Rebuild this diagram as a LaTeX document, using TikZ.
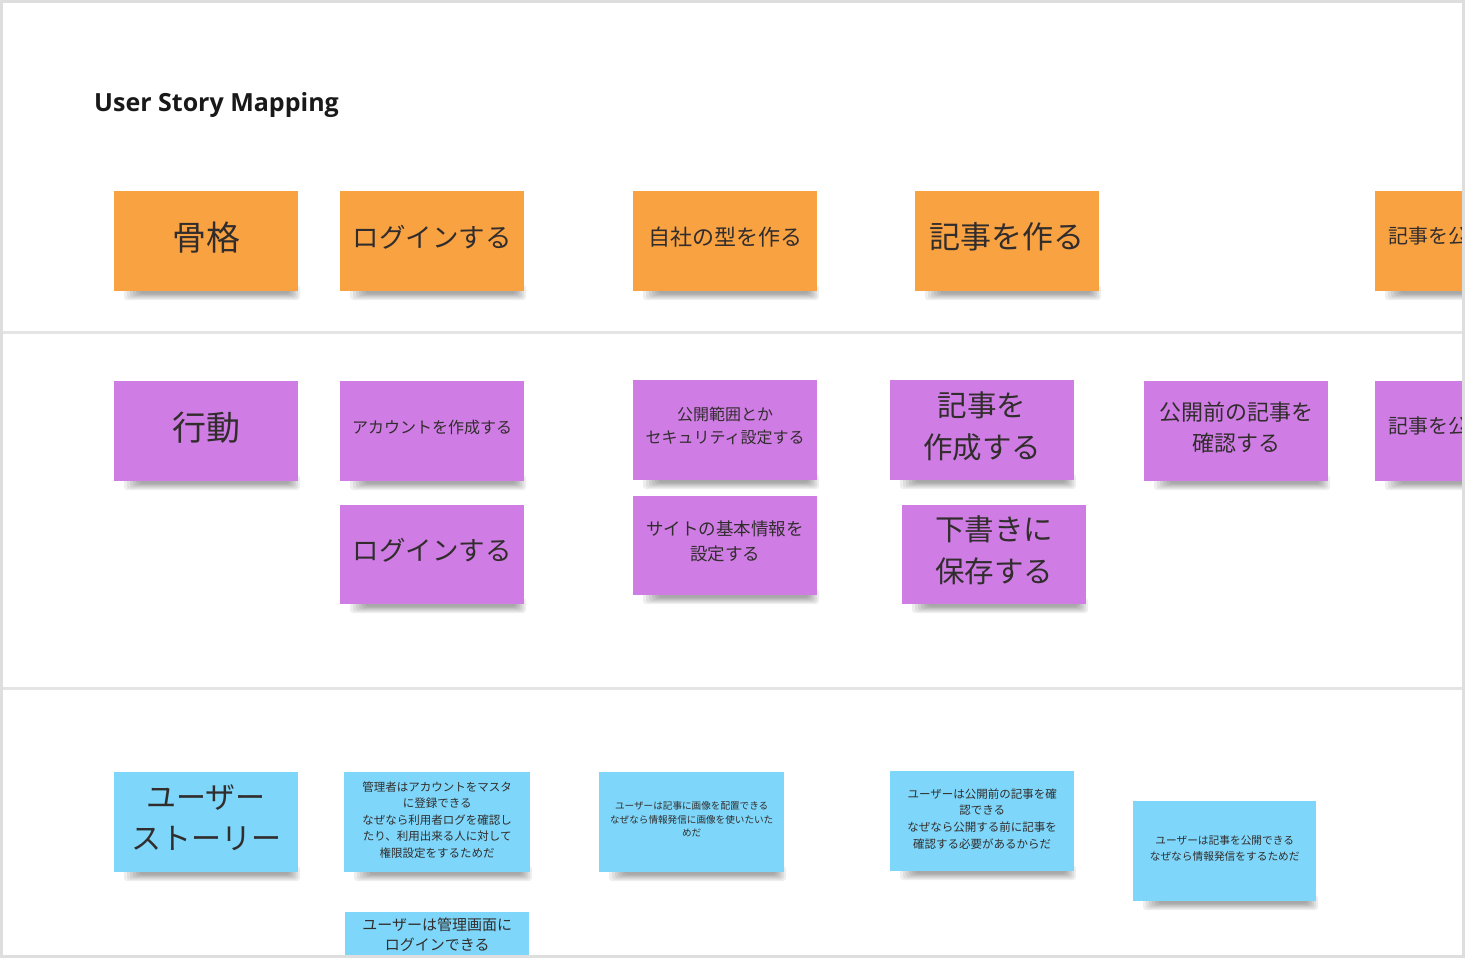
\documentclass[tikz,border=0pt]{standalone}
\usepackage{fontspec}
\newfontfamily\jp{Noto Sans CJK JP}
\newfontfamily\titlefont{Open Sans}
\definecolor{noteorange}{RGB}{248,162,66}
\definecolor{notepurple}{RGB}{207,125,229}
\definecolor{noteblue}{RGB}{126,215,250}
\definecolor{notetext}{RGB}{50,45,45}
\definecolor{framegray}{RGB}{222,222,222}
\definecolor{linegray}{RGB}{228,228,228}
\tikzset{
  note/.style={draw=none, inner sep=0pt, align=center, text=notetext},
  sepline/.style={linegray, line width=3pt},
}
\newcommand\noteshift{4pt}
\newcommand\stickynote[9]{%
  \foreach \k in {0,...,5} {%
    \fill[black,opacity=0.065,rounded corners=3pt] ({#2+10+3*\k},{#3+#5-6}) rectangle ({#2+#4+2-2*\k},{#3+#5+9-1.3*\k});
  }%
  \node[note, fill=#6, minimum width=#4pt, minimum height=#5pt, anchor=north west] (#1) at (#2,#3) {};
  \node[note, font=\jp\fontsize{#7}{#8}\selectfont, yshift=\noteshift] (#1t) at (#1.center) {#9};
}
\begin{document}
\begin{tikzpicture}[x=1pt,y=-1pt]
\useasboundingbox (0,0) rectangle (1467,960);
\fill[white] (0,0) rectangle (1467,960);
\begin{scope}
\clip (3,3) rectangle (1462,955);
% separators
\coordinate (s1a) at (3,332); \coordinate (s1b) at (1462,332);
\coordinate (s2a) at (3,688); \coordinate (s2b) at (1462,688);
\draw[sepline] (s1a) -- (s1b);
\draw[sepline] (s2a) -- (s2b);
% title
\node[anchor=base west, inner sep=0pt, font=\titlefont\bfseries\fontsize{25}{30}\selectfont, text=black!90] (title) at (94,112) {User Story Mapping};
% row 1
\stickynote{kokkaku}{114}{191}{184}{100}{noteorange}{34}{40}{骨格}
\stickynote{login1}{340}{191}{184}{100}{noteorange}{26.5}{32}{ログインする}
\stickynote{jisha}{633}{191}{184}{100}{noteorange}{22}{28}{自社の型を作る}
\stickynote{kiji}{915}{191}{184}{100}{noteorange}{31}{38}{記事を作る}
\foreach \k in {0,...,5} {\fill[black,opacity=0.065,rounded corners=3pt] ({1385+3*\k},285) rectangle ({1561-2*\k},{300-1.3*\k});}
\node[note, fill=noteorange, minimum width=184pt, minimum height=100pt, anchor=north west] (kokai1) at (1375,191) {};
\node[anchor=west, inner sep=0pt, text=notetext, font=\jp\fontsize{20}{26}\selectfont] (kokai1t) at (1388,236) {記事を公開する};
% row 2
\stickynote{kodo}{114}{381}{184}{100}{notepurple}{34}{40}{行動}
\stickynote{account}{340}{381}{184}{100}{notepurple}{16}{22}{アカウントを作成する}
\stickynote{hanni}{633}{380}{184}{100}{notepurple}{16}{23}{公開範囲とか\\セキュリティ設定する}
\stickynote{sakusei}{890}{380}{184}{100}{notepurple}{29.5}{42}{記事を\\作成する}
\stickynote{kakunin}{1144}{381}{184}{100}{notepurple}{22}{31}{公開前の記事を\\確認する}
\foreach \k in {0,...,5} {\fill[black,opacity=0.065,rounded corners=3pt] ({1385+3*\k},475) rectangle ({1561-2*\k},{490-1.3*\k});}
\node[note, fill=notepurple, minimum width=184pt, minimum height=100pt, anchor=north west] (kokai2) at (1375,381) {};
\node[anchor=west, inner sep=0pt, text=notetext, font=\jp\fontsize{20}{26}\selectfont] (kokai2t) at (1388,426) {記事を公開する};
\stickynote{login2}{340}{505}{184}{99}{notepurple}{26.5}{32}{ログインする}
\stickynote{site}{633}{496}{184}{99}{notepurple}{17.5}{25}{サイトの基本情報を\\設定する}
\stickynote{shitagaki}{902}{505}{184}{99}{notepurple}{29.5}{42}{下書きに\\保存する}
% row 3
\stickynote{story}{114}{772}{184}{100}{noteblue}{30}{41}{ユーザー\\ストーリー}
\renewcommand\noteshift{2.5pt}
\stickynote{kanri}{344}{772}{186}{100}{noteblue}{11.5}{16.5}{管理者はアカウントをマスタ\\に登録できる\\なぜなら利用者ログを確認し\\たり、利用出来る人に対して\\権限設定をするためだ}
\stickynote{gazo}{599}{772}{185}{100}{noteblue}{9.6}{13.5}{ユーザーは記事に画像を配置できる\\なぜなら情報発信に画像を使いたいた\\めだ}
\stickynote{kokaimae}{890}{771}{184}{100}{noteblue}{11.5}{16.7}{ユーザーは公開前の記事を確\\認できる\\なぜなら公開する前に記事を\\確認する必要があるからだ}
\stickynote{kokaidekiru}{1133}{801}{183}{100}{noteblue}{10.7}{16}{ユーザーは記事を公開できる\\なぜなら情報発信をするためだ}
\stickynote{kanrigamen}{345}{912}{184}{50}{noteblue}{15}{20}{ユーザーは管理画面に\\ログインできる}
\end{scope}
% frame
\draw[framegray, line width=3pt] (1.5,1.5) rectangle (1463.5,956.5);
\end{tikzpicture}
\end{document}
